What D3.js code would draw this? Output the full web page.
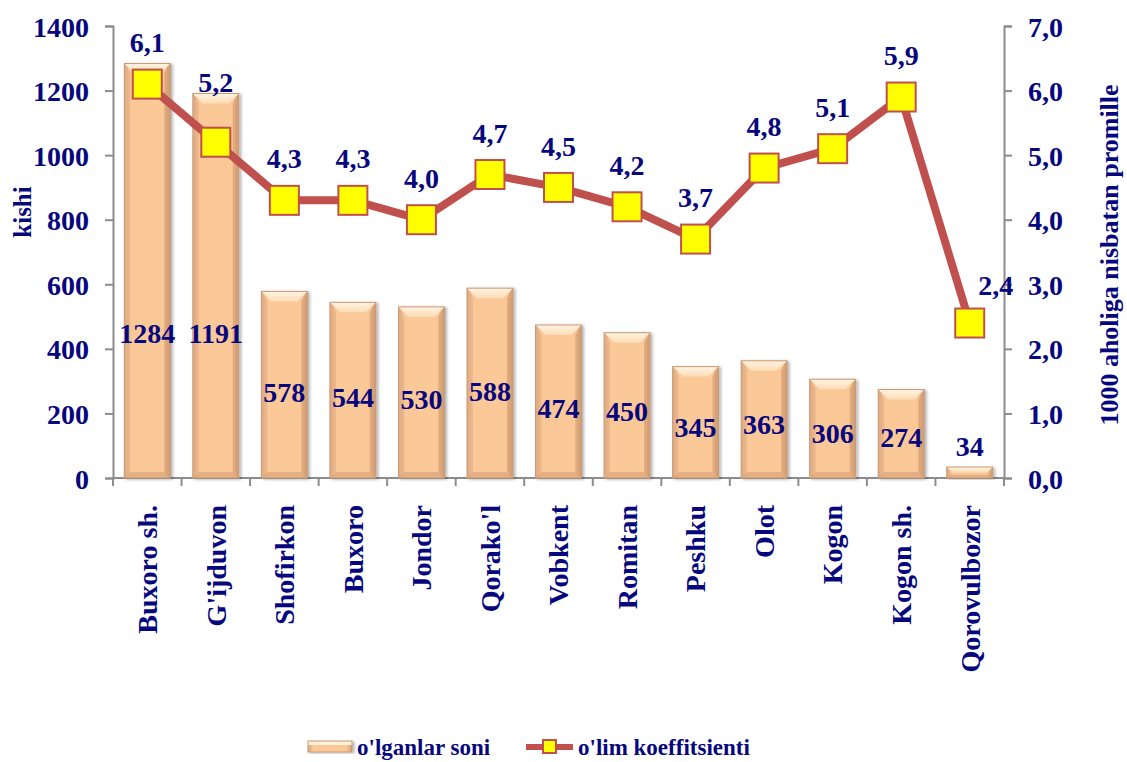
<!DOCTYPE html>
<html>
<head>
<meta charset="utf-8">
<script src="https://cdn.jsdelivr.net/npm/d3@7"></script>
<style>
  html, body { margin: 0; padding: 0; background: #fff; }
  svg text { font-family: "Liberation Serif", "Times New Roman", serif; font-weight: bold; fill: #06067e; }
</style>
</head>
<body>
<svg id="chart" width="1127" height="762"></svg>
<script>
// ---- data ----
const categories = ["Buxoro sh.", "G'ijduvon", "Shofirkon", "Buxoro", "Jondor", "Qorako'l", "Vobkent", "Romitan", "Peshku", "Olot", "Kogon", "Kogon sh.", "Qorovulbozor"];
const deaths = [1284, 1191, 578, 544, 530, 588, 474, 450, 345, 363, 306, 274, 34];
const rate = [6.1, 5.2, 4.3, 4.3, 4.0, 4.7, 4.5, 4.2, 3.7, 4.8, 5.1, 5.9, 2.4];
const leftTicks = [0, 200, 400, 600, 800, 1000, 1200, 1400];
const rightTicks = [0, 1, 2, 3, 4, 5, 6, 7];
const seriesNames = ["o'lganlar soni", "o'lim koeffitsienti"];
const leftTitle = "kishi";
const rightTitle = "1000 aholiga nisbatan promille";

// ---- layout ----
const svg = d3.select("#chart");
const X0 = 113, X1 = 1004, Y0 = 478, Y1 = 26;
const navy = "#06067e", axisCol = "#8c8c8c", lineCol = "#c0504d";
const fmt = d3.format(".1f");
const comma = v => fmt(v).replace(".", ",");

const x = d3.scaleBand().domain(categories).range([X0, X1]).paddingInner(0.33).paddingOuter(0.165);
const yL = d3.scaleLinear().domain([0, 1400]).range([Y0, Y1]);
const yR = d3.scaleLinear().domain([0, 7]).range([Y0, Y1]);

// defs
const defs = svg.append("defs");
const g1 = defs.append("linearGradient").attr("id", "barH").attr("x1", 0).attr("x2", 1).attr("y1", 0).attr("y2", 0);
[[0, "#d6a47c"], [0.12, "#fbc898"], [0.88, "#fbc898"], [1, "#d19d74"]].forEach(s => g1.append("stop").attr("offset", s[0]).attr("stop-color", s[1]));
const g2 = defs.append("linearGradient").attr("id", "barTop").attr("x1", 0).attr("x2", 0).attr("y1", 0).attr("y2", 1);
[[0, "#fff4e2"], [1, "#fddcb6"]].forEach(s => g2.append("stop").attr("offset", s[0]).attr("stop-color", s[1]));
const f = defs.append("filter").attr("id", "shadow").attr("x", "-20%").attr("y", "-5%").attr("width", "150%").attr("height", "115%");
f.append("feDropShadow").attr("dx", 2).attr("dy", 1).attr("stdDeviation", 1.5).attr("flood-color", "#000").attr("flood-opacity", 0.3);

// axes
const axL = svg.append("g").attr("transform", `translate(${X0},0)`)
  .call(d3.axisLeft(yL).tickValues(leftTicks).tickSize(8).tickFormat(d3.format("d")));
const axR = svg.append("g").attr("transform", `translate(${X1},0)`)
  .call(d3.axisRight(yR).tickValues(rightTicks).tickSize(8).tickFormat(comma));
[axL, axR].forEach(a => {
  a.selectAll(".domain").attr("stroke", axisCol).attr("stroke-width", 2);
  a.selectAll(".tick line").attr("stroke", axisCol).attr("stroke-width", 2);
  a.selectAll(".tick text").attr("font-size", 28).attr("fill", navy)
    .style("font-family", '"Liberation Serif", serif').style("font-weight", "bold");
});
axL.selectAll(".tick text").attr("x", -24).attr("dy", "0.36em");
axR.selectAll(".tick text").attr("x", 24).attr("dy", "0.36em");

// bottom axis with ticks at band boundaries
svg.append("line").attr("x1", X0).attr("x2", X1).attr("y1", Y0).attr("y2", Y0).attr("stroke", axisCol).attr("stroke-width", 2);
const bounds = categories.map(c => x(c) - x.step() * x.paddingOuter()).concat([X1]);
svg.append("g").selectAll("line").data(bounds).join("line")
  .attr("x1", d => d).attr("x2", d => d).attr("y1", Y0).attr("y2", Y0 + 8)
  .attr("stroke", axisCol).attr("stroke-width", 2);

// category labels
svg.append("g").selectAll("text").data(categories).join("text")
  .attr("transform", d => `translate(${x(d) + x.bandwidth() / 2},505) rotate(-90)`)
  .attr("text-anchor", "end").attr("dy", "0.35em").attr("font-size", 28).text(d => d);

// bars
const bw = x.bandwidth();
const bars = svg.append("g").selectAll("g").data(categories.map((c, i) => ({ c, v: deaths[i] }))).join("g")
  .attr("filter", "url(#shadow)");
bars.each(function (d) {
  const g = d3.select(this);
  const x0 = x(d.c), x1 = x0 + bw, yt = yL(d.v), yb = Y0;
  const b = Math.min(10, (yb - yt) / 2);
  g.append("rect").attr("x", x0).attr("y", yt).attr("width", bw).attr("height", yb - yt).attr("fill", "url(#barH)");
  g.append("polygon").attr("points", [[x0, yt], [x1, yt], [x1 - b, yt + b], [x0 + b, yt + b]].join(" ")).attr("fill", "url(#barTop)");
  g.append("polygon").attr("points", [[x0, yt], [x0 + b * 0.6, yt + b], [x0 + b * 0.6, yb - b * 0.6], [x0, yb]].join(" ")).attr("fill", "#e2ae84").attr("opacity", 0.6);
  g.append("polygon").attr("points", [[x1, yt], [x1 - b * 0.6, yt + b], [x1 - b * 0.6, yb - b * 0.6], [x1, yb]].join(" ")).attr("fill", "#d09a70").attr("opacity", 0.6);
  g.append("polygon").attr("points", [[x0, yb], [x1, yb], [x1 - b * 0.6, yb - b * 0.6], [x0 + b * 0.6, yb - b * 0.6]].join(" ")).attr("fill", "#d9a47a").attr("opacity", 0.7);
  g.append("rect").attr("x", x0).attr("y", yt).attr("width", bw).attr("height", yb - yt)
    .attr("fill", "none").attr("stroke", "#c89b78").attr("stroke-width", 1);
});

// bar value labels
svg.append("g").selectAll("text").data(categories.map((c, i) => ({ c, v: deaths[i] }))).join("text")
  .attr("x", d => x(d.c) + bw / 2)
  .attr("y", d => d.v < 100 ? yL(d.v) - 21 : yL(Math.min(d.v * 0.46, 450)))
  .attr("text-anchor", "middle").attr("dy", "0.36em").attr("font-size", 28)
  .text(d => d.v);

// line
const pts = categories.map((c, i) => ({ c, v: rate[i], b: deaths[i], i }));
const cx = d => x(d.c) + bw / 2;
svg.append("path").datum(pts)
  .attr("d", d3.line().x(cx).y(d => yR(d.v)))
  .attr("fill", "none").attr("stroke", lineCol).attr("stroke-width", 8).attr("stroke-linejoin", "round");
const ms = 29;
svg.append("g").selectAll("rect").data(pts).join("rect")
  .attr("x", d => cx(d) - ms / 2).attr("y", d => yR(d.v) - ms / 2)
  .attr("width", ms).attr("height", ms)
  .attr("fill", "#ffff00").attr("stroke", lineCol).attr("stroke-width", 2);

// line labels
svg.append("g").selectAll("text").data(pts).join("text")
  .attr("x", d => cx(d) + (d.i === pts.length - 1 ? 26 : 0))
  .attr("y", d => Math.min(yR(d.v) - 42, yL(d.b) - 12) + (d.i === pts.length - 1 ? 4 : 0))
  .attr("text-anchor", "middle").attr("dy", "0.36em").attr("font-size", 28)
  .text(d => comma(d.v));

// axis titles
svg.append("text").attr("transform", "translate(22,212) rotate(-90)")
  .attr("text-anchor", "middle").attr("dy", "0.35em").attr("font-size", 25).text(leftTitle);
svg.append("text").attr("transform", "translate(1110,255) rotate(-90)")
  .attr("text-anchor", "middle").attr("dy", "0.32em").attr("font-size", 26).text(rightTitle);

// legend
const lg = svg.append("g");
const lgBar = lg.append("g").attr("filter", "url(#shadow)");
lgBar.append("rect").attr("x", 308).attr("y", 741).attr("width", 44).attr("height", 11).attr("fill", "url(#barH)");
lgBar.append("rect").attr("x", 308).attr("y", 741).attr("width", 44).attr("height", 4).attr("fill", "#fff0da");
lgBar.append("rect").attr("x", 308).attr("y", 741).attr("width", 44).attr("height", 11).attr("fill", "none").attr("stroke", "#c89b78");
lg.append("text").attr("x", 357).attr("y", 755).attr("font-size", 23).text(seriesNames[0]);
lg.append("line").attr("x1", 526).attr("x2", 573).attr("y1", 747).attr("y2", 747).attr("stroke", lineCol).attr("stroke-width", 6);
lg.append("rect").attr("x", 543).attr("y", 740).attr("width", 13).attr("height", 13).attr("fill", "#ffff00").attr("stroke", lineCol).attr("stroke-width", 2);
lg.append("text").attr("x", 578).attr("y", 755).attr("font-size", 23).text(seriesNames[1]);
</script>
</body>
</html>
